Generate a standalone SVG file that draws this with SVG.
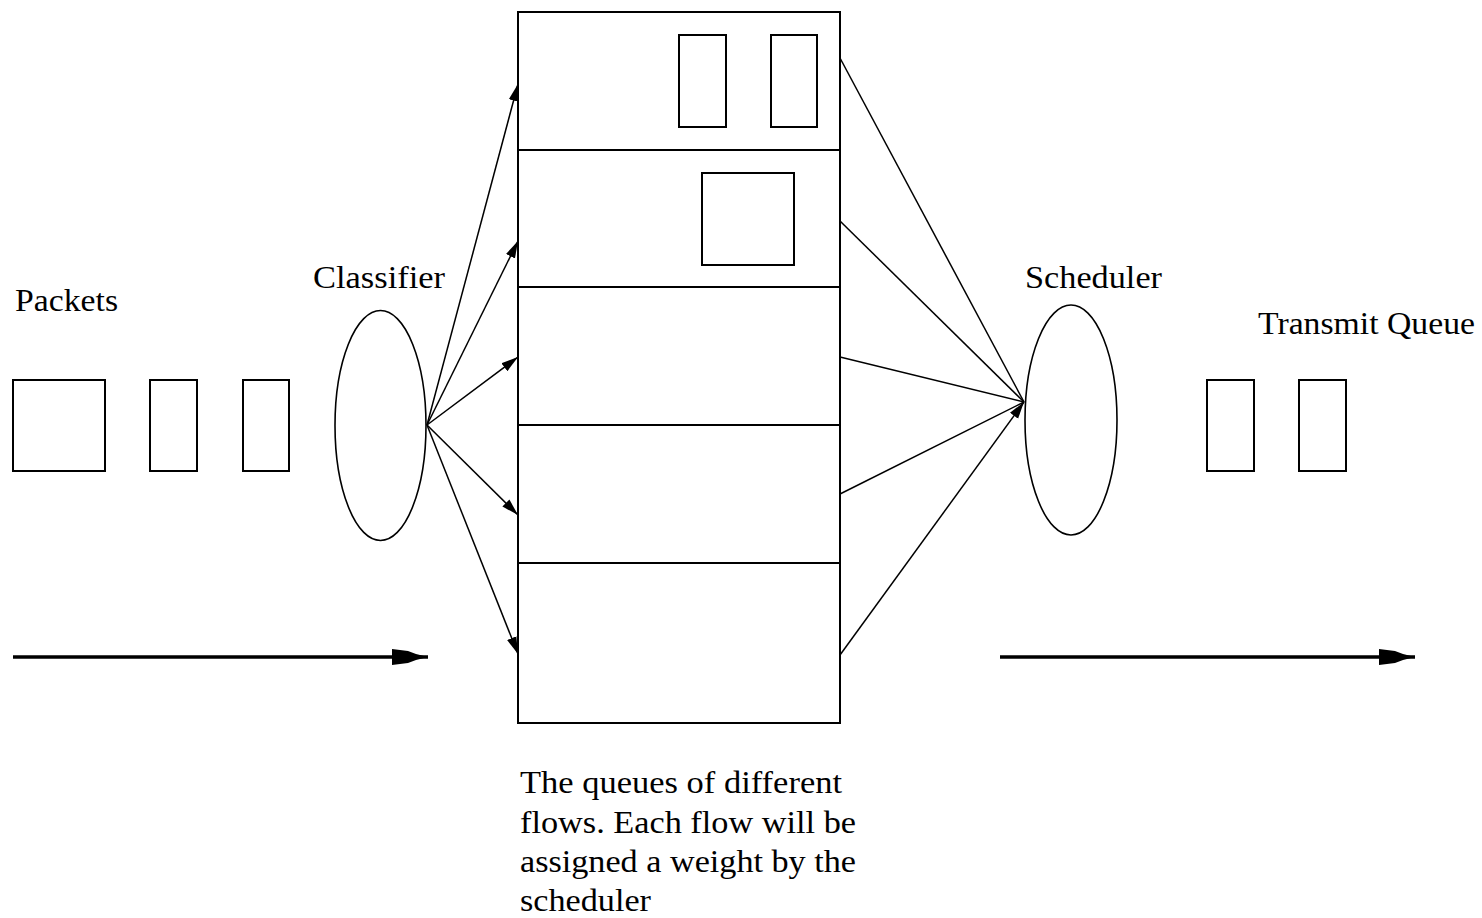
<svg xmlns="http://www.w3.org/2000/svg" width="1482" height="918" viewBox="0 0 1482 918">
<defs>
<style>
.box{fill:none;stroke:#000;stroke-width:2}
.ell{fill:none;stroke:#000;stroke-width:1.6}
.ln{fill:none;stroke:#000;stroke-width:1.5}
.big{fill:none;stroke:#000;stroke-width:3.5}
.t{font-family:"Liberation Serif","Times New Roman",serif;font-size:32px;fill:#000}
</style>
<marker id="ah" markerUnits="userSpaceOnUse" markerWidth="20" markerHeight="12" refX="17" refY="6" orient="auto">
<path d="M0,1 L17,6 L0,11 z" fill="#000"/>
</marker>
<marker id="bh" markerUnits="userSpaceOnUse" markerWidth="38" markerHeight="16" refX="36" refY="8" orient="auto">
<path d="M0,0 L16,2 L24,5 L36,8 L24,11 L16,14 L0,16 z" fill="#000"/>
</marker>
</defs>
<rect width="1482" height="918" fill="#fff"/>

<g id="packets">
<rect class="box" x="13" y="380" width="92" height="91"/>
<rect class="box" x="150" y="380" width="47" height="91"/>
<rect class="box" x="243" y="380" width="46" height="91"/>
<text class="t" x="15" y="311" textLength="103" lengthAdjust="spacingAndGlyphs">Packets</text>
</g>

<g id="classifier">
<ellipse class="ell" cx="380.5" cy="425.5" rx="45.5" ry="115"/>
<text class="t" x="313" y="288" textLength="132" lengthAdjust="spacingAndGlyphs">Classifier</text>
</g>

<g id="queues">
<rect class="box" x="518" y="12" width="322" height="711"/>
<line class="box" x1="518" y1="150" x2="840" y2="150"/>
<line class="box" x1="518" y1="287" x2="840" y2="287"/>
<line class="box" x1="518" y1="425" x2="840" y2="425"/>
<line class="box" x1="518" y1="563" x2="840" y2="563"/>
<rect class="box" x="679" y="35" width="47" height="92"/>
<rect class="box" x="771" y="35" width="46" height="92"/>
<rect class="box" x="702" y="173" width="92" height="92"/>
</g>

<g id="scheduler">
<ellipse class="ell" cx="1071" cy="420" rx="46" ry="115"/>
<text class="t" x="1025" y="288" textLength="137" lengthAdjust="spacingAndGlyphs">Scheduler</text>
</g>

<g id="transmit-queue">
<rect class="box" x="1207" y="380" width="47" height="91"/>
<rect class="box" x="1299" y="380" width="47" height="91"/>
<text class="t" x="1258" y="334" textLength="217" lengthAdjust="spacingAndGlyphs">Transmit Queue</text>
</g>

<g id="caption">
<text class="t" x="520" y="793" textLength="322" lengthAdjust="spacingAndGlyphs">The queues of different</text>
<text class="t" x="520" y="833" textLength="336" lengthAdjust="spacingAndGlyphs">flows. Each flow will be</text>
<text class="t" x="520" y="872" textLength="336" lengthAdjust="spacingAndGlyphs">assigned a weight by the</text>
<text class="t" x="520" y="911" textLength="131" lengthAdjust="spacingAndGlyphs">scheduler</text>
</g>

<g id="connectors">
<line class="ln" x1="427" y1="425" x2="518" y2="84" marker-end="url(#ah)"/>
<line class="ln" x1="427" y1="425" x2="518" y2="241" marker-end="url(#ah)"/>
<line class="ln" x1="427" y1="425" x2="518" y2="357" marker-end="url(#ah)"/>
<line class="ln" x1="427" y1="425" x2="518" y2="515" marker-end="url(#ah)"/>
<line class="ln" x1="427" y1="425" x2="518" y2="654" marker-end="url(#ah)"/>
<line class="ln" x1="840" y1="58" x2="1024" y2="402"/>
<line class="ln" x1="840" y1="221" x2="1024" y2="402"/>
<line class="ln" x1="840" y1="357" x2="1024" y2="402"/>
<line class="ln" x1="840" y1="494" x2="1024" y2="402"/>
<line class="ln" x1="840" y1="655" x2="1024" y2="402" marker-end="url(#ah)"/>
<line class="big" x1="13" y1="657" x2="428" y2="657" marker-end="url(#bh)"/>
<line class="big" x1="1000" y1="657" x2="1415" y2="657" marker-end="url(#bh)"/>
</g>
</svg>
